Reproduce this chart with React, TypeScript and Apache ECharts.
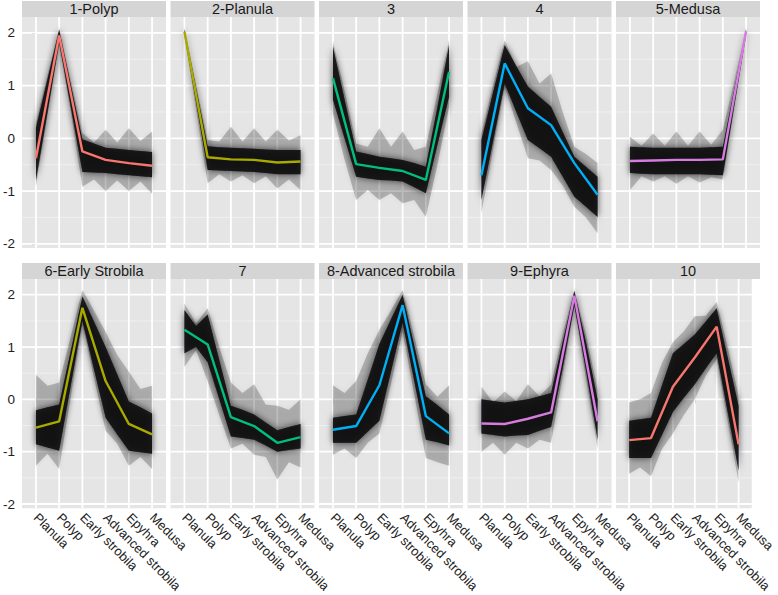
import React, { useEffect, useRef } from "react";
import * as echarts from "echarts";

// ---------- data ----------
const stages = ["Planula", "Polyp", "Early strobila", "Advanced strobila", "Epyhra", "Medusa"];
const stageIdx = [0, 1, 2, 3, 4, 5];
// sample positions for the envelopes: every stage and half-way between stages
const envX = [0, 0.5, 1, 1.5, 2, 2.5, 3, 3.5, 4, 4.5, 5];
const yMajorTicks = [-2, -1, 0, 1, 2];
const yMinorTicks = [-1.5, -0.5, 0.5, 1.5];
const titles = ["1-Polyp", "2-Planula", "3", "4", "5-Medusa", "6-Early Strobila", "7", "8-Advanced strobila", "9-Ephyra", "10"];
const lineColors = ["#F8766D", "#A9AA00", "#00BF7D", "#00B0F6", "#D67BE0", "#A9AA00", "#00BF7D", "#00B0F6", "#D67BE0", "#F8766D"];

// cluster mean profiles (6 stages)
const c1Mean = [-0.38, 1.95, -0.25, -0.41, -0.47, -0.52];
const c2Mean = [2.02, -0.36, -0.4, -0.41, -0.46, -0.44];
const c3Mean = [1.14, -0.49, -0.56, -0.62, -0.79, 1.26];
const c4Mean = [-0.7, 1.42, 0.57, 0.25, -0.47, -1.07];
const c5Mean = [-0.43, -0.42, -0.41, -0.41, -0.4, 2.03];
const c6Mean = [-0.54, -0.42, 1.75, 0.35, -0.47, -0.67];
const c7Mean = [1.33, 1.05, -0.34, -0.51, -0.83, -0.72];
const c8Mean = [-0.58, -0.51, 0.27, 1.8, -0.32, -0.65];
const c9Mean = [-0.46, -0.47, -0.37, -0.25, 1.98, -0.42];
const c10Mean = [-0.78, -0.74, 0.24, 0.8, 1.39, -0.86];

// dense core of the gene profiles (upper / lower edge at envX)
const c1CoreHi = [0.2, 1.13, 2.06, 1.02, -0.02, -0.1, -0.18, -0.2, -0.22, -0.24, -0.26];
const c1CoreLo = [-0.8, 0.5, 1.82, 0.59, -0.64, -0.65, -0.66, -0.68, -0.7, -0.72, -0.74];
const c2CoreHi = [2.07, 0.96, -0.15, -0.17, -0.18, -0.19, -0.2, -0.21, -0.22, -0.22, -0.22];
const c2CoreLo = [1.97, 0.68, -0.6, -0.61, -0.62, -0.63, -0.64, -0.66, -0.68, -0.68, -0.68];
const c3CoreHi = [1.74, 0.74, -0.25, -0.3, -0.35, -0.38, -0.41, -0.47, -0.54, 0.6, 1.77];
const c3CoreLo = [0.73, 0.0, -0.73, -0.76, -0.79, -0.8, -0.82, -0.93, -1.04, -0.12, 0.79];
const c4CoreHi = [-0.03, 0.87, 1.77, 1.37, 0.98, 0.79, 0.6, 0.12, -0.35, -0.54, -0.73];
const c4CoreLo = [-1.17, -0.06, 1.04, 0.5, -0.03, -0.19, -0.35, -0.73, -1.11, -1.3, -1.49];
const c5CoreHi = [-0.16, -0.17, -0.18, -0.18, -0.18, -0.18, -0.18, -0.17, -0.16, 0.95, 2.07];
const c5CoreLo = [-0.66, -0.67, -0.68, -0.68, -0.68, -0.68, -0.68, -0.69, -0.7, 0.63, 1.96];
const c6CoreHi = [-0.21, -0.15, -0.1, 0.93, 1.97, 1.49, 1.0, 0.48, -0.04, -0.15, -0.27];
const c6CoreLo = [-0.86, -0.92, -0.98, 0.26, 1.5, 0.57, -0.35, -0.67, -0.98, -1.01, -1.04];
const c7CoreHi = [1.71, 1.4, 1.62, 0.75, -0.12, -0.2, -0.29, -0.44, -0.59, -0.53, -0.47];
const c7CoreLo = [0.88, 1.0, 0.71, 0.0, -0.71, -0.74, -0.77, -0.88, -1.0, -0.97, -0.94];
const c8CoreHi = [-0.35, -0.32, -0.29, 0.38, 1.06, 1.53, 2.0, 1.03, 0.06, -0.11, -0.29];
const c8CoreLo = [-0.83, -0.83, -0.83, -0.62, -0.41, 0.53, 1.47, 0.35, -0.77, -0.82, -0.88];
const c9CoreHi = [0.0, -0.03, -0.06, -0.03, 0.0, 0.06, 0.12, 1.1, 2.07, 1.1, 0.0];
const c9CoreLo = [-0.65, -0.68, -0.71, -0.69, -0.68, -0.6, -0.53, 0.6, 1.8, 0.55, -0.77];
const c10CoreHi = [-0.41, -0.38, -0.35, 0.27, 0.88, 1.06, 1.24, 1.49, 1.74, 0.81, -0.12];
const c10CoreLo = [-1.12, -1.12, -1.12, -0.68, -0.24, 0.03, 0.29, 0.59, 0.88, -0.24, -1.36];

// faint outer spread of the gene profiles (upper / lower edge at envX)
const c1OuterHi = [0.3, 1.2, 2.09, 1.1, 0.1, -0.08, 0.16, -0.08, 0.19, -0.05, 0.13];
const c1OuterLo = [-0.92, 0.45, 1.75, 0.5, -0.92, -0.78, -1.0, -0.8, -1.0, -0.82, -1.05];
const c2OuterHi = [2.09, 1.03, -0.03, -0.06, 0.22, -0.06, 0.19, -0.06, 0.16, -0.04, 0.06];
const c2OuterLo = [1.95, 0.55, -0.85, -0.68, -0.82, -0.7, -0.85, -0.72, -0.95, -0.78, -0.98];
const c3OuterHi = [1.84, 0.9, -0.1, -0.16, 0.19, -0.16, 0.13, -0.22, -0.16, 0.85, 1.87];
const c3OuterLo = [0.47, -0.4, -1.17, -0.98, -1.17, -1.04, -1.23, -1.17, -1.49, -0.5, 0.6];
const c4OuterHi = [0.09, 1.0, 1.86, 1.35, 1.46, 1.04, 1.23, 0.5, -0.16, -0.3, -0.47];
const c4OuterLo = [-1.42, -0.2, 0.98, 0.3, -0.38, -0.42, -0.6, -0.9, -1.3, -1.5, -1.8];
const c5OuterHi = [0.03, -0.14, 0.09, -0.14, 0.13, -0.14, 0.13, -0.12, 0.16, 1.1, 2.09];
const c5OuterLo = [-0.98, -0.72, -0.82, -0.72, -0.86, -0.72, -0.84, -0.74, -0.78, 0.6, 1.93];
const c6OuterHi = [0.47, 0.26, 0.32, 1.2, 2.09, 1.7, 1.29, 0.85, 0.53, 0.2, 0.26];
const c6OuterLo = [-1.27, -1.04, -1.33, 0.05, 1.44, 0.42, -0.6, -0.85, -1.27, -1.1, -1.33];
const c7OuterHi = [1.83, 1.45, 1.74, 1.0, 0.32, 0.12, 0.29, -0.1, -0.12, -0.2, 0.0];
const c7OuterLo = [0.62, 0.94, 0.35, -0.3, -0.94, -0.85, -1.06, -1.1, -1.53, -1.2, -1.3];
const c8OuterHi = [0.27, 0.12, 0.35, 0.88, 1.33, 1.7, 2.09, 1.2, 0.29, 0.05, 0.27];
const c8OuterLo = [-1.06, -0.94, -1.12, -0.83, -0.65, 0.3, 1.3, 0.1, -1.12, -1.2, -1.27];
const c9OuterHi = [0.24, -0.06, 0.15, -0.03, 0.29, 0.06, 0.29, 1.25, 2.09, 1.25, 0.18];
const c9OuterLo = [-1.0, -0.83, -1.06, -0.83, -0.94, -0.77, -0.83, 0.45, 1.77, 0.4, -0.94];
const c10OuterHi = [-0.06, 0.0, 0.12, 0.7, 1.09, 1.3, 1.59, 1.6, 1.86, 1.0, 0.06];
const c10OuterLo = [-1.42, -1.3, -1.47, -0.95, -0.65, -0.3, 0.0, 0.45, 0.77, -0.4, -1.59];

const means = [c1Mean, c2Mean, c3Mean, c4Mean, c5Mean, c6Mean, c7Mean, c8Mean, c9Mean, c10Mean];
const coreHis = [c1CoreHi, c2CoreHi, c3CoreHi, c4CoreHi, c5CoreHi, c6CoreHi, c7CoreHi, c8CoreHi, c9CoreHi, c10CoreHi];
const coreLos = [c1CoreLo, c2CoreLo, c3CoreLo, c4CoreLo, c5CoreLo, c6CoreLo, c7CoreLo, c8CoreLo, c9CoreLo, c10CoreLo];
const outerHis = [c1OuterHi, c2OuterHi, c3OuterHi, c4OuterHi, c5OuterHi, c6OuterHi, c7OuterHi, c8OuterHi, c9OuterHi, c10OuterHi];
const outerLos = [c1OuterLo, c2OuterLo, c3OuterLo, c4OuterLo, c5OuterLo, c6OuterLo, c7OuterLo, c8OuterLo, c9OuterLo, c10OuterLo];

// ---------- layout / style ----------
const FONT = '"Liberation Sans", Arial, Helvetica, sans-serif';
const COL_LEFT = [22, 170.5, 319, 467.5, 616];
const PANEL_W = 144;
const ROW_TOP = [17, 279];
const ROW_H = [231, 235];
const STRIP_H = 16;
const PANEL_BG = "#E5E5E5";
const STRIP_BG = "#D5D5D5";
const X_MIN = -0.6;
const X_MAX = 5.6;
const Y_MIN = -2.08;
const Y_MAX = 2.3;

function gridSeries(i: number) {
  return {
    type: "custom",
    xAxisIndex: i,
    yAxisIndex: i,
    z: 1,
    silent: true,
    data: [[0, 0]],
    renderItem: (params: any, api: any) => {
      const cs = params.coordSys;
      const children: any[] = [];
      yMinorTicks.forEach((v) => {
        const p = api.coord([0, v]);
        children.push({ type: "line", shape: { x1: cs.x, y1: p[1], x2: cs.x + cs.width, y2: p[1] }, style: { stroke: "#F2F2F2", lineWidth: 0.8 } });
      });
      yMajorTicks.forEach((v) => {
        const p = api.coord([0, v]);
        children.push({ type: "line", shape: { x1: cs.x, y1: p[1], x2: cs.x + cs.width, y2: p[1] }, style: { stroke: "#FFFFFF", lineWidth: 1.8 } });
      });
      stageIdx.forEach((v) => {
        const p = api.coord([v, 0]);
        children.push({ type: "line", shape: { x1: p[0], y1: cs.y, x2: p[0], y2: cs.y + cs.height }, style: { stroke: "#FFFFFF", lineWidth: 1.8 } });
      });
      return { type: "group", children };
    },
  };
}

function bandSeries(i: number, hi: number[], lo: number[], style: any, z: number) {
  return {
    type: "custom",
    xAxisIndex: i,
    yAxisIndex: i,
    z,
    silent: true,
    data: [[0, 0]],
    renderItem: (_params: any, api: any) => {
      const pts: number[][] = [];
      for (let k = 0; k < envX.length; k++) pts.push(api.coord([envX[k], hi[k]]));
      for (let k = envX.length - 1; k >= 0; k--) pts.push(api.coord([envX[k], lo[k]]));
      return { type: "polygon", shape: { points: pts }, style };
    },
  };
}

function buildOption() {
  const grid: any[] = [];
  const xAxis: any[] = [];
  const yAxis: any[] = [];
  const series: any[] = [];
  const graphic: any[] = [];

  titles.forEach((title, i) => {
    const row = Math.floor(i / 5);
    const col = i % 5;
    grid.push({
      left: COL_LEFT[col],
      top: ROW_TOP[row],
      width: PANEL_W,
      height: ROW_H[row],
      show: true,
      backgroundColor: PANEL_BG,
      borderWidth: 0,
    });
    xAxis.push({
      gridIndex: i,
      type: "value",
      min: X_MIN,
      max: X_MAX,
      splitLine: { show: false },
      axisLine: { show: false },
      axisTick: { show: row === 1, customValues: stageIdx, length: 4, lineStyle: { color: "#7F7F7F", width: 1 } },
      axisLabel: {
        show: row === 1,
        customValues: stageIdx,
        formatter: (v: number) => stages[Math.round(v)],
        rotate: -45,
        margin: 7,
        fontSize: 13,
        color: "#222222",
        fontFamily: FONT,
      },
    });
    yAxis.push({
      gridIndex: i,
      type: "value",
      min: Y_MIN,
      max: Y_MAX,
      splitLine: { show: false },
      axisLine: { show: false },
      axisTick: { show: col === 0, customValues: yMajorTicks, length: 4, lineStyle: { color: "#7F7F7F", width: 1 } },
      axisLabel: {
        show: col === 0,
        customValues: yMajorTicks,
        formatter: (v: number) => String(v),
        margin: 7,
        fontSize: 13.5,
        color: "#222222",
        fontFamily: FONT,
      },
    });

    series.push(gridSeries(i));
    series.push(
      bandSeries(i, outerHis[i], outerLos[i], { fill: "rgba(0,0,0,0.22)", shadowBlur: 4, shadowColor: "rgba(0,0,0,0.25)" }, 2)
    );
    series.push(
      bandSeries(i, coreHis[i], coreLos[i], { fill: "rgba(10,10,16,0.9)", shadowBlur: 7, shadowColor: "rgba(0,0,0,0.75)" }, 3)
    );
    series.push({
      type: "line",
      xAxisIndex: i,
      yAxisIndex: i,
      z: 4,
      silent: true,
      symbol: "none",
      data: means[i].map((v, k) => [stageIdx[k], v]),
      lineStyle: { color: lineColors[i], width: 2.4 },
    });

    graphic.push({
      type: "rect",
      silent: true,
      shape: { x: COL_LEFT[col], y: ROW_TOP[row] - STRIP_H, width: PANEL_W, height: STRIP_H },
      style: { fill: STRIP_BG },
    });
    graphic.push({
      type: "text",
      silent: true,
      x: COL_LEFT[col] + PANEL_W / 2,
      y: ROW_TOP[row] - STRIP_H / 2,
      style: {
        text: title,
        align: "center",
        verticalAlign: "middle",
        textAlign: "center",
        textVerticalAlign: "middle",
        fontSize: 14.5,
        fontFamily: FONT,
        fill: "#1A1A1A",
      },
    });
  });

  return {
    animation: false,
    backgroundColor: "#FFFFFF",
    grid,
    xAxis,
    yAxis,
    series,
    graphic,
  };
}

export default function App() {
  const ref = useRef<HTMLDivElement>(null);
  useEffect(() => {
    if (!ref.current) return;
    const chart = echarts.init(ref.current, undefined, { renderer: "svg" });
    chart.setOption(buildOption() as any);
    return () => chart.dispose();
  }, []);
  return (
    <div
      ref={ref}
      style={{ position: "absolute", left: 0, top: 0, width: 778, height: 595, background: "#FFFFFF" }}
    />
  );
}
